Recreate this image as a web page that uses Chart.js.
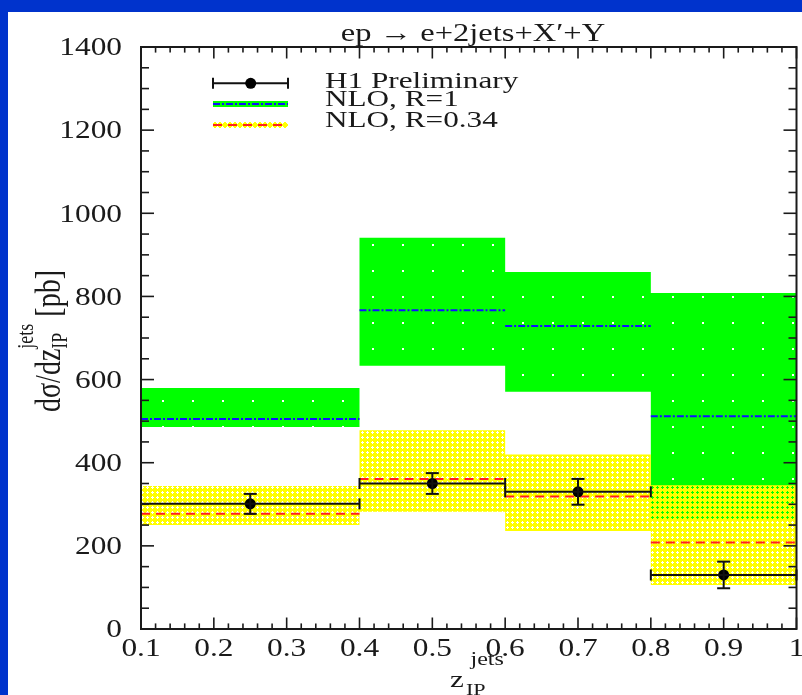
<!DOCTYPE html>
<html>
<head>
<meta charset="utf-8">
<script src="https://cdn.jsdelivr.net/npm/chart.js@4.4.1/dist/chart.umd.min.js"></script>
<style>
  html, body { margin: 0; padding: 0; background: #0033cc; }
  #wrap { position: absolute; left: 0; top: 0; width: 802px; height: 695px; }
</style>
</head>
<body>
<div id="wrap"><canvas id="grafico" width="802" height="695"></canvas></div>
<script>
// bins in z_IP^jets
var binEdges = [0.1, 0.4, 0.6, 0.8, 1.0];
var binCenters = [0.25, 0.5, 0.7, 0.9];
// H1 data [pb]
var h1Values = [301, 350, 330, 130];
var h1Errors = [24, 25, 31, 32];
// NLO R=1 (central, band)
var nloR1 = [505, 767, 729, 512];
var nloR1Up = [580, 941, 859, 808];
var nloR1Down = [486, 633, 571, 262];
// NLO R=0.34 (central, band)
var nloR034 = [277, 361, 319, 208];
var nloR034Up = [344, 478, 420, 346];
var nloR034Down = [250, 282, 236, 106];
// ticks
var xTickValues = [0.1, 0.2, 0.3, 0.4, 0.5, 0.6, 0.7, 0.8, 0.9, 1.0];
var xTickLabels = ["0.1", "0.2", "0.3", "0.4", "0.5", "0.6", "0.7", "0.8", "0.9", "1"];
var yTickValues = [0, 200, 400, 600, 800, 1000, 1200, 1400];
var legendLabels = ["H1 Preliminary", "NLO, R=1", "NLO, R=0.34"];

var FONTE = '"Liberation Serif", "DejaVu Serif", serif';
var TINTA = "#1a1a1a";

// stepped band points: value i holds from edge i to edge i+1
function degraus(vals) {
    return binEdges.map(function (x, i) {
        return { x: x, y: vals[Math.min(i, vals.length - 1)] };
    });
}
// separate horizontal segments, one per bin
function segmentos(vals) {
    var pts = [];
    vals.forEach(function (v, i) {
        pts.push({ x: binEdges[i], y: v });
        pts.push({ x: binEdges[i + 1], y: v });
        pts.push({ x: binEdges[i + 1], y: null });
    });
    return pts;
}

function padraoVerde() {
    var c = document.createElement("canvas");
    c.width = 30; c.height = 26;
    var g = c.getContext("2d");
    g.fillStyle = "#00ff00";
    g.fillRect(0, 0, 30, 26);
    g.fillStyle = "#ffffff";
    g.fillRect(12, 10, 2, 2);
    return g.createPattern(c, "repeat");
}
function padraoAmarelo() {
    var c = document.createElement("canvas");
    c.width = 5; c.height = 5;
    var g = c.getContext("2d");
    g.fillStyle = "#ffff00";
    g.fillRect(0, 0, 5, 5);
    g.clearRect(2, 1, 1, 3);
    g.clearRect(1, 2, 3, 1);
    return g.createPattern(c, "repeat");
}
var verde = padraoVerde();
var amarelo = padraoAmarelo();

function texto(ctx, s, x, y, size, align, k) {
    ctx.save();
    ctx.font = size + "px " + FONTE;
    ctx.fillStyle = TINTA;
    ctx.textAlign = align;
    ctx.textBaseline = "alphabetic";
    ctx.translate(x, y);
    ctx.scale(k, 1);
    ctx.fillText(s, 0, 0);
    ctx.restore();
}

function linha(ctx, x1, y1, x2, y2) {
    ctx.beginPath();
    ctx.moveTo(x1, y1);
    ctx.lineTo(x2, y2);
    ctx.stroke();
}

var desenho = {
    id: "desenho",
    beforeDraw: function (chart) {
        var ctx = chart.ctx;
        ctx.save();
        ctx.fillStyle = "#0033cc";
        ctx.fillRect(0, 0, chart.width, chart.height);
        ctx.fillStyle = "#ffffff";
        ctx.fillRect(8, 12, chart.width - 8, chart.height - 12);
        ctx.restore();
    },
    afterDatasetsDraw: function (chart) {
        var ctx = chart.ctx;
        var sx = chart.scales.x, sy = chart.scales.y;
        ctx.save();
        ctx.strokeStyle = "#111111";
        ctx.lineWidth = 2;
        h1Values.forEach(function (v, i) {
            var x1 = sx.getPixelForValue(binEdges[i]);
            var x2 = sx.getPixelForValue(binEdges[i + 1]);
            var xc = sx.getPixelForValue(binCenters[i]);
            var y = sy.getPixelForValue(v);
            var yt = sy.getPixelForValue(v + h1Errors[i]);
            var yb = sy.getPixelForValue(v - h1Errors[i]);
            linha(ctx, x1, y, x2, y);
            linha(ctx, x1, y - 5.5, x1, y + 5.5);
            linha(ctx, x2, y - 5.5, x2, y + 5.5);
            linha(ctx, xc, yt, xc, yb);
            linha(ctx, xc - 6.5, yt, xc + 6.5, yt);
            linha(ctx, xc - 6.5, yb, xc + 6.5, yb);
        });
        ctx.restore();
    },
    afterDraw: function (chart) {
        var ctx = chart.ctx;
        var a = chart.chartArea;
        var sx = chart.scales.x, sy = chart.scales.y;
        ctx.save();
        ctx.strokeStyle = TINTA;

        // x ticks (inward, bottom and top)
        ctx.lineWidth = 1.6;
        for (var m = 0; m <= 45; m++) {
            var xv = 0.1 + m * 0.02;
            var px = sx.getPixelForValue(xv);
            var len = (m % 5 === 0) ? 11.5 : 5.6;
            linha(ctx, px, a.bottom, px, a.bottom - len);
            linha(ctx, px, a.top, px, a.top + len);
        }
        // y ticks (inward, left and right)
        for (var n = 0; n <= 28; n++) {
            var yv = n * 50;
            var py = sy.getPixelForValue(yv);
            var ly = (n % 4 === 0) ? 13 : 8;
            linha(ctx, a.left, py, a.left + ly, py);
            linha(ctx, a.right, py, a.right - ly, py);
        }
        // frame
        ctx.lineWidth = 2;
        ctx.strokeRect(a.left, a.top, a.right - a.left, a.bottom - a.top);

        // tick labels
        xTickValues.forEach(function (v, i) {
            texto(ctx, xTickLabels[i], sx.getPixelForValue(v), 655.5, 24.5, "center", 1.28);
        });
        yTickValues.forEach(function (v) {
            texto(ctx, String(v), 122, sy.getPixelForValue(v) + 8.3, 24.5, "right", 1.28);
        });

        // title
        texto(ctx, "ep \u2192 e+2jets+X\u2032+Y", 473, 41, 25, "center", 1.3);

        // x axis title
        texto(ctx, "z", 450, 687, 24, "left", 1.3);
        texto(ctx, "jets", 470.5, 665, 18.5, "left", 1.3);
        texto(ctx, "IP", 466, 695, 17, "left", 1.3);

        // y axis title (rotated)
        ctx.save();
        ctx.fillStyle = TINTA;
        ctx.textBaseline = "alphabetic";
        ctx.font = "28px " + FONTE;
        var w1 = ctx.measureText("d\u03c3/dz").width;
        ctx.font = "18px " + FONTE;
        var wSub = ctx.measureText("IP").width;
        var wSup = ctx.measureText("jets").width;
        ctx.font = "28px " + FONTE;
        var w3 = ctx.measureText(" [pb]").width;
        var total = w1 + Math.max(wSub, wSup) + w3;
        ctx.translate(60, 341);
        ctx.scale(1.3, 1);
        ctx.rotate(-Math.PI / 2);
        var u0 = -total / 2;
        ctx.font = "28px " + FONTE;
        ctx.fillText("d\u03c3/dz", u0, 0);
        ctx.font = "18px " + FONTE;
        ctx.fillText("IP", u0 + w1, 5);
        ctx.fillText("jets", u0 + w1, -21);
        ctx.font = "28px " + FONTE;
        ctx.fillText(" [pb]", u0 + w1 + Math.max(wSub, wSup), 0);
        ctx.restore();

        // legend
        var lx1 = 213, lx2 = 288, tx = 325;
        var rows = [83.3, 104, 125];
        // H1 sample
        ctx.strokeStyle = "#111111";
        ctx.lineWidth = 2;
        linha(ctx, lx1, rows[0], lx2, rows[0]);
        linha(ctx, lx1, rows[0] - 5.5, lx1, rows[0] + 5.5);
        linha(ctx, lx2, rows[0] - 5.5, lx2, rows[0] + 5.5);
        ctx.fillStyle = "#000000";
        ctx.beginPath();
        ctx.arc(250.7, rows[0], 5.5, 0, Math.PI * 2);
        ctx.fill();
        // NLO R=1 sample
        ctx.fillStyle = "#00ff00";
        ctx.fillRect(lx1, rows[1] - 3, lx2 - lx1, 6);
        ctx.strokeStyle = "#1010ff";
        ctx.setLineDash([7, 2, 2, 2]);
        linha(ctx, lx1, rows[1], lx2, rows[1]);
        // NLO R=0.34 sample
        ctx.setLineDash([]);
        ctx.fillStyle = amarelo;
        ctx.fillRect(lx1, rows[2] - 3, lx2 - lx1, 6);
        ctx.strokeStyle = "#ff2020";
        ctx.setLineDash([9, 6]);
        linha(ctx, lx1, rows[2], lx2, rows[2]);
        ctx.setLineDash([]);
        texto(ctx, legendLabels[0], tx, 87.5, 24, "left", 1.3);
        texto(ctx, legendLabels[1], tx, 106, 24, "left", 1.3);
        texto(ctx, legendLabels[2], tx, 126.5, 24, "left", 1.3);

        ctx.restore();
    }
};

var ctx = document.getElementById("grafico").getContext("2d");
var grafico = new Chart(ctx, {
    type: "line",
    data: {
        datasets: [
            {
                label: "NLO, R=1 up",
                data: degraus(nloR1Up),
                stepped: true,
                borderWidth: 0,
                borderColor: "rgba(0,0,0,0)",
                backgroundColor: verde,
                pointRadius: 0,
                fill: "+1",
                order: 6
            },
            {
                label: "NLO, R=1 down",
                data: degraus(nloR1Down),
                stepped: true,
                borderWidth: 0,
                borderColor: "rgba(0,0,0,0)",
                pointRadius: 0,
                fill: false,
                order: 6
            },
            {
                label: "NLO, R=0.34 up",
                data: degraus(nloR034Up),
                stepped: true,
                borderWidth: 0,
                borderColor: "rgba(0,0,0,0)",
                backgroundColor: amarelo,
                pointRadius: 0,
                fill: "+1",
                order: 5
            },
            {
                label: "NLO, R=0.34 down",
                data: degraus(nloR034Down),
                stepped: true,
                borderWidth: 0,
                borderColor: "rgba(0,0,0,0)",
                pointRadius: 0,
                fill: false,
                order: 5
            },
            {
                label: legendLabels[1],
                data: segmentos(nloR1),
                borderColor: "#1010ff",
                borderWidth: 2,
                borderDash: [7, 2, 2, 2],
                pointRadius: 0,
                fill: false,
                spanGaps: false,
                order: 3
            },
            {
                label: legendLabels[2],
                data: segmentos(nloR034),
                borderColor: "#ff2020",
                borderWidth: 2,
                borderDash: [9, 6],
                pointRadius: 0,
                fill: false,
                spanGaps: false,
                order: 2
            },
            {
                label: legendLabels[0],
                data: binCenters.map(function (x, i) { return { x: x, y: h1Values[i] }; }),
                showLine: false,
                pointRadius: 5.5,
                pointBackgroundColor: "#000000",
                pointBorderColor: "#000000",
                pointBorderWidth: 0,
                order: 1
            }
        ]
    },
    options: {
        responsive: false,
        animation: false,
        devicePixelRatio: 1,
        layout: { padding: { left: 141, top: 47, right: 1, bottom: 66 } },
        scales: {
            x: { type: "linear", min: 0.1, max: 1.0, display: false },
            y: { type: "linear", min: 0, max: 1400, display: false }
        },
        plugins: {
            legend: { display: false },
            title: { display: false },
            tooltip: { enabled: false }
        }
    },
    plugins: [desenho]
});
</script>
</body>
</html>
